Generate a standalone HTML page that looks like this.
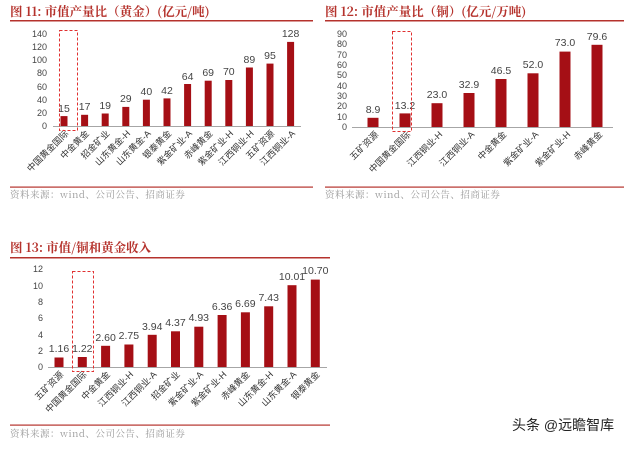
<!DOCTYPE html>
<html><head><meta charset="utf-8"><style>
body{margin:0;background:#fff;}
svg{display:block;font-family:"Liberation Sans","Noto Sans CJK SC",sans-serif;}
.t{font-family:"Noto Serif CJK SC","Liberation Serif",serif;font-weight:bold;fill:#b5322c;font-size:12.5px;}
.s{font-family:"Noto Serif CJK SC","Liberation Serif",serif;fill:#999;font-size:9.5px;letter-spacing:0.5px;}
.tk{font-size:9px;fill:#444;text-anchor:end;}
.v{font-size:10.5px;fill:#444;text-anchor:middle;}
.c{font-size:9px;fill:#333;text-anchor:end;}
rect.b{fill:#a50f15;}
</style></head><body>
<svg width="640" height="449" viewBox="0 0 640 449">
<!-- Chart 11 -->
<text class="t" x="10" y="16">图 11:  市值产量比（黄金）(亿元/吨)</text>
<rect x="10" y="20" width="303" height="1.5" fill="#b5322c"/>
<g class="tk"><text x="47" y="129">0</text><text x="47" y="116">20</text><text x="47" y="103">40</text><text x="47" y="90">60</text><text x="47" y="76">80</text><text x="47" y="63">100</text><text x="47" y="50">120</text><text x="47" y="37">140</text></g>
<line x1="53" y1="126.5" x2="301" y2="126.5" stroke="#888" stroke-width="0.8"/>
<rect class="b" x="60.5" y="116.1" width="7" height="9.9"/><rect class="b" x="81.1" y="114.8" width="7" height="11.2"/><rect class="b" x="101.7" y="113.5" width="7" height="12.5"/><rect class="b" x="122.3" y="106.9" width="7" height="19.1"/><rect class="b" x="142.9" y="99.7" width="7" height="26.3"/><rect class="b" x="163.5" y="98.4" width="7" height="27.6"/><rect class="b" x="184.1" y="84" width="7" height="42"/><rect class="b" x="204.7" y="80.7" width="7" height="45.3"/><rect class="b" x="225.3" y="80" width="7" height="46"/><rect class="b" x="245.9" y="67.5" width="7" height="58.5"/><rect class="b" x="266.5" y="63.6" width="7" height="62.4"/><rect class="b" x="287.1" y="41.9" width="7" height="84.1"/>
<g class="v"><text x="64" y="112">15</text><text x="84.6" y="110">17</text><text x="105.2" y="109">19</text><text x="125.8" y="102">29</text><text x="146.4" y="95">40</text><text x="167" y="94">42</text><text x="187.6" y="80">64</text><text x="208.2" y="76">69</text><text x="228.8" y="75">70</text><text x="249.4" y="63">89</text><text x="270" y="59">95</text><text x="290.6" y="37">128</text></g>
<g class="c"><text transform="translate(69,134) rotate(-45)">中国黄金国际</text><text transform="translate(89.6,134) rotate(-45)">中金黄金</text><text transform="translate(110.2,134) rotate(-45)">招金矿业</text><text transform="translate(130.8,134) rotate(-45)">山东黄金-H</text><text transform="translate(151.4,134) rotate(-45)">山东黄金-A</text><text transform="translate(172,134) rotate(-45)">银泰黄金</text><text transform="translate(192.6,134) rotate(-45)">紫金矿业-A</text><text transform="translate(213.2,134) rotate(-45)">赤峰黄金</text><text transform="translate(233.8,134) rotate(-45)">紫金矿业-H</text><text transform="translate(254.4,134) rotate(-45)">江西铜业-H</text><text transform="translate(275,134) rotate(-45)">五矿资源</text><text transform="translate(295.6,134) rotate(-45)">江西铜业-A</text></g>
<rect x="59.5" y="30.5" width="18" height="100" fill="none" stroke="#e03030" stroke-dasharray="3,2"/>
<rect x="10" y="186.5" width="303" height="1.2" fill="#b5322c"/>
<text class="s" x="10" y="198">资料来源：wind、公司公告、招商证券</text>

<!-- Chart 12 -->
<text class="t" x="325" y="16">图 12:  市值产量比（铜）(亿元/万吨)</text>
<rect x="325" y="20" width="299" height="1.5" fill="#b5322c"/>
<g class="tk"><text x="347" y="130">0</text><text x="347" y="120">10</text><text x="347" y="109">20</text><text x="347" y="99">30</text><text x="347" y="89">40</text><text x="347" y="78">50</text><text x="347" y="68">60</text><text x="347" y="58">70</text><text x="347" y="47">80</text><text x="347" y="37">90</text></g>
<line x1="352" y1="127.5" x2="613" y2="127.5" stroke="#888" stroke-width="0.8"/>
<rect class="b" x="367.5" y="117.8" width="11" height="9.2"/><rect class="b" x="399.5" y="113.4" width="11" height="13.6"/><rect class="b" x="431.5" y="103.2" width="11" height="23.8"/><rect class="b" x="463.5" y="93" width="11" height="34"/><rect class="b" x="495.5" y="79" width="11" height="48"/><rect class="b" x="527.5" y="73.3" width="11" height="53.7"/><rect class="b" x="559.5" y="51.6" width="11" height="75.4"/><rect class="b" x="591.5" y="44.8" width="11" height="82.2"/>
<g class="v"><text x="373" y="113">8.9</text><text x="405" y="109">13.2</text><text x="437" y="98">23.0</text><text x="469" y="88">32.9</text><text x="501" y="74">46.5</text><text x="533" y="68">52.0</text><text x="565" y="46">73.0</text><text x="597" y="40">79.6</text></g>
<g class="c"><text transform="translate(379,135) rotate(-45)">五矿资源</text><text transform="translate(411,135) rotate(-45)">中国黄金国际</text><text transform="translate(443,135) rotate(-45)">江西铜业-H</text><text transform="translate(475,135) rotate(-45)">江西铜业-A</text><text transform="translate(507,135) rotate(-45)">中金黄金</text><text transform="translate(539,135) rotate(-45)">紫金矿业-A</text><text transform="translate(571,135) rotate(-45)">紫金矿业-H</text><text transform="translate(603,135) rotate(-45)">赤峰黄金</text></g>
<rect x="392.5" y="31.5" width="19" height="100" fill="none" stroke="#e03030" stroke-dasharray="3,2"/>
<rect x="325" y="186.5" width="299" height="1.2" fill="#b5322c"/>
<text class="s" x="325" y="198">资料来源：wind、公司公告、招商证券</text>

<!-- Chart 13 -->
<text class="t" x="10" y="252">图 13:  市值/铜和黄金收入</text>
<rect x="10" y="257" width="320" height="1.5" fill="#b5322c"/>
<g class="tk"><text x="43" y="370">0</text><text x="43" y="354">2</text><text x="43" y="338">4</text><text x="43" y="321">6</text><text x="43" y="305">8</text><text x="43" y="289">10</text><text x="43" y="272">12</text></g>
<line x1="48" y1="367.5" x2="327" y2="367.5" stroke="#888" stroke-width="0.8"/>
<rect class="b" x="54.5" y="357.5" width="9" height="9.5"/><rect class="b" x="77.8" y="357" width="9" height="10"/><rect class="b" x="101.1" y="345.8" width="9" height="21.2"/><rect class="b" x="124.4" y="344.5" width="9" height="22.5"/><rect class="b" x="147.7" y="334.8" width="9" height="32.2"/><rect class="b" x="171" y="331.3" width="9" height="35.7"/><rect class="b" x="194.3" y="326.7" width="9" height="40.3"/><rect class="b" x="217.6" y="315" width="9" height="52"/><rect class="b" x="240.9" y="312.3" width="9" height="54.7"/><rect class="b" x="264.2" y="306.3" width="9" height="60.7"/><rect class="b" x="287.5" y="285.2" width="9" height="81.8"/><rect class="b" x="310.8" y="279.6" width="9" height="87.4"/>
<g class="v"><text x="59" y="352">1.16</text><text x="82.3" y="352">1.22</text><text x="105.6" y="341">2.60</text><text x="128.9" y="339">2.75</text><text x="152.2" y="330">3.94</text><text x="175.5" y="326">4.37</text><text x="198.8" y="321">4.93</text><text x="222.1" y="310">6.36</text><text x="245.4" y="307">6.69</text><text x="268.7" y="301">7.43</text><text x="292" y="280">10.01</text><text x="315.3" y="274">10.70</text></g>
<g class="c"><text transform="translate(64,375) rotate(-45)">五矿资源</text><text transform="translate(87.3,375) rotate(-45)">中国黄金国际</text><text transform="translate(110.6,375) rotate(-45)">中金黄金</text><text transform="translate(133.9,375) rotate(-45)">江西铜业-H</text><text transform="translate(157.2,375) rotate(-45)">江西铜业-A</text><text transform="translate(180.5,375) rotate(-45)">招金矿业</text><text transform="translate(203.8,375) rotate(-45)">紫金矿业-A</text><text transform="translate(227.1,375) rotate(-45)">紫金矿业-H</text><text transform="translate(250.4,375) rotate(-45)">赤峰黄金</text><text transform="translate(273.7,375) rotate(-45)">山东黄金-H</text><text transform="translate(297,375) rotate(-45)">山东黄金-A</text><text transform="translate(320.3,375) rotate(-45)">银泰黄金</text></g>
<rect x="72.5" y="271.5" width="21" height="100" fill="none" stroke="#e03030" stroke-dasharray="3,2"/>
<rect x="10" y="424.5" width="320" height="1.2" fill="#b5322c"/>
<text class="s" x="10" y="437">资料来源：wind、公司公告、招商证券</text>

<text x="512" y="430" font-size="14" fill="#222">头条 @远瞻智库</text>
</svg>
</body></html>
